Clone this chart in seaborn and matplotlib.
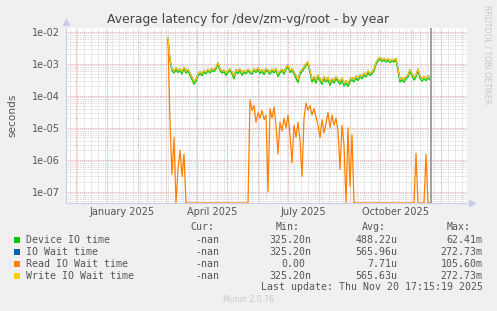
import numpy as np
import pandas as pd
import matplotlib
matplotlib.use("Agg")
import matplotlib.pyplot as plt
import matplotlib.dates as mdates
from matplotlib.patches import Rectangle
from matplotlib.ticker import LogLocator, NullFormatter
import seaborn as sns

# ---------------- data (microseconds, one sample every 2 days from 2025-03-03) -------------
start_date = "2025-03-03"
step = "2D"

device_io_us = [5800, 1250, 620, 520, 660, 540, 610, 480, 700, 520,
                600, 440, 320, 230, 280, 420, 490, 430, 540, 490,
                600, 520, 630, 570, 700, 960, 610, 520, 570, 440,
                540, 610, 480, 340, 570, 500, 610, 440, 540, 490,
                600, 520, 480, 610, 540, 660, 500, 580, 460, 630,
                560, 480, 600, 520, 630, 400, 520, 600, 480, 660,
                820, 540, 610, 480, 350, 260, 480, 570, 700, 880,
                1000, 510, 270, 340, 250, 390, 290, 230, 340, 270,
                320, 210, 300, 250, 340, 280, 230, 310, 200, 250,
                195, 280, 320, 270, 360, 300, 390, 340, 450, 390,
                520, 430, 490, 610, 960, 1230, 1400, 1180, 1320, 1140,
                1270, 1090, 1230, 1140, 1320, 600, 270, 320, 265, 340,
                390, 570, 430, 310, 390, 610, 350, 290, 340, 300,
                360, 320]

write_wait_us = [6500, 1400, 700, 600, 750, 620, 700, 560, 800, 600,
                 680, 520, 380, 280, 330, 480, 560, 500, 620, 560,
                 680, 600, 720, 650, 800, 1100, 700, 600, 650, 520,
                 620, 700, 560, 420, 650, 580, 700, 520, 620, 560,
                 680, 600, 560, 700, 620, 750, 580, 660, 540, 720,
                 640, 560, 680, 600, 720, 480, 600, 680, 560, 750,
                 930, 620, 700, 560, 420, 320, 560, 650, 800, 1000,
                 1150, 600, 330, 400, 300, 450, 350, 280, 400, 320,
                 380, 260, 350, 300, 400, 330, 280, 360, 250, 300,
                 240, 330, 380, 320, 420, 360, 450, 400, 520, 450,
                 600, 500, 560, 700, 1100, 1400, 1600, 1350, 1500, 1300,
                 1450, 1250, 1400, 1300, 1500, 700, 330, 380, 320, 400,
                 450, 650, 500, 380, 450, 700, 420, 350, 400, 360,
                 420, 380]

# IO wait is visually indistinguishable from write wait (hidden beneath it)
io_wait_us = list(write_wait_us)

read_wait_us = [5000, 15, 0.35, 5, 0, 0.5, 2, 0.3, 1.5, 0,
                0, 0, 0, 0, 0, 0, 0, 0, 0, 0,
                0, 0, 0, 0, 0, 0, 0, 0, 0, 0,
                0, 0, 0, 0, 0, 0, 0, 0, 0, 0,
                0, 75, 35, 50, 15, 30, 20, 35, 18, 25,
                0.1, 40, 20, 45, 12, 1.5, 15, 8, 20, 10,
                25, 6, 0.8, 12, 5, 15, 4, 0.3, 20, 60,
                35, 50, 25, 40, 22, 12, 5, 18, 7, 14,
                30, 10, 25, 12, 20, 8, 0.5, 12, 3, 0,
                10, 0.15, 6, 0, 0, 0, 0, 0, 0, 0,
                0, 0, 0, 0, 0, 0, 0, 0, 0, 0,
                0, 0, 0, 0, 0, 0, 0, 0, 0, 0,
                0, 0, 0, 0, 1.6, 0, 0, 0, 0, 1.5,
                0, 0]

series_names = ["Device IO time", "IO Wait time", "Read IO Wait time", "Write IO Wait time"]
series_colors = ["#00CC00", "#0066B3", "#FF8000", "#FFCC00"]
legend_cur = ["-nan", "-nan", "-nan", "-nan"]
legend_min = ["325.20n", "325.20n", "0.00", "325.20n"]
legend_avg = ["488.22u", "565.96u", "7.71u", "565.63u"]
legend_max = ["62.41m", "272.73m", "105.60m", "272.73m"]

title = "Average latency for /dev/zm-vg/root - by year"
ylabel = "seconds"
last_update = "Last update: Thu Nov 20 17:15:19 2025"
now_time = "2025-11-20 17:15:19"
x_start, x_end = "2024-11-21", "2025-12-27"
y_min, y_max = 10 ** -7.353, 10 ** -1.875

# ---------------- build frame ----------------
n = len(write_wait_us)
dates = pd.date_range(start_date, periods=n, freq=step)
rows = []
for name, vals in zip(series_names, [device_io_us, io_wait_us, read_wait_us, write_wait_us]):
    v = np.array(vals, dtype=float) * 1e-6
    v = np.clip(v, y_min, None)   # zero is drawn on the bottom edge, as rrdtool does
    rows.append(pd.DataFrame({"date": dates, "value": v, "series": name}))
df = pd.concat(rows, ignore_index=True)

# ---------------- figure ----------------
W, H = 497, 311
sns.set_style("white")
plt.rcParams["font.family"] = ["DejaVu Sans"]
fig = plt.figure(figsize=(W / 100, H / 100), dpi=100, facecolor="#F0F0F0")
L, R, T, B = 66, 467, 28, 203
ax = fig.add_axes([L / W, 1 - B / H, (R - L) / W, (B - T) / H])
ax.set_facecolor("white")
ax.set_yscale("log")

red = "#E8A8A8"
gray = "#CFCFCF"
txt = "#555555"

# grids
ax.set_axisbelow(True)
ax.yaxis.set_major_locator(LogLocator(base=10, numticks=20))
ax.yaxis.set_minor_locator(LogLocator(base=10, subs=np.arange(2, 10), numticks=20))
ax.yaxis.set_minor_formatter(NullFormatter())
ax.grid(True, axis="y", which="major", color=red, ls=(0, (1, 1)), lw=0.7)
ax.grid(True, axis="y", which="minor", color=gray, ls=(0, (1, 1)), lw=0.6)
ax.xaxis.set_minor_locator(mdates.WeekdayLocator(byweekday=mdates.MO))
ax.grid(True, axis="x", which="minor", color=gray, ls=(0, (1, 1)), lw=0.6)
for d in pd.date_range("2024-12-01", "2025-12-01", freq="MS"):
    ax.axvline(d, color=red, ls=(0, (1, 1)), lw=0.7, zorder=0.5)

sns.lineplot(data=df, x="date", y="value", hue="series", palette=series_colors,
             hue_order=series_names, estimator=None, sort=False, legend=False,
             lw=0.9, ax=ax)

ax.axvline(pd.Timestamp(now_time), color="#999999", lw=1.3, zorder=5)

ax.set_xlim(pd.Timestamp(x_start), pd.Timestamp(x_end))
ax.set_ylim(y_min, y_max)

# tick labels
ax.yaxis.set_major_formatter(matplotlib.ticker.FuncFormatter(lambda v, p: f"{v:.0e}"))
ax.xaxis.set_major_locator(mdates.MonthLocator(bymonth=[1, 4, 7, 10], bymonthday=16))
ax.xaxis.set_major_formatter(mdates.DateFormatter("%B %Y"))
ax.tick_params(axis="both", which="both", length=0, labelsize=7, labelcolor=txt)
ax.tick_params(axis="y", pad=4.3)
ax.tick_params(axis="x", pad=3.2)

for s in ["top", "right"]:
    ax.spines[s].set_visible(False)
for s in ["left", "bottom"]:
    ax.spines[s].set_color("#C8CCE8")
    ax.spines[s].set_linewidth(0.8)
# axis arrows
ax.plot([0], [1.035], marker="^", color="#C8CCE8", ms=4, transform=ax.transAxes, clip_on=False)
ax.plot([1.012], [0], marker=">", color="#C8CCE8", ms=4, transform=ax.transAxes, clip_on=False)

ax.set_xlabel("")
ax.set_ylabel("")

# texts
fig.text(248.5 / W, 1 - 19 / H, title, ha="center", va="center", fontsize=8.9, color="#444444")
fig.text(12 / W, 1 - 115.5 / H, ylabel, ha="center", va="center", rotation=90, fontsize=7.6, color=txt)
fig.text(487 / W, 1 - 5 / H, "RRDTOOL / TOBI OETIKER", ha="center", va="top", rotation=270,
         fontsize=5.6, color="#C8C8C8")

mono = {"family": "DejaVu Sans Mono", "size": 7.1}
hy = 227.3
for label, xl in zip(["Cur:", "Min:", "Avg:", "Max:"], [190, 276, 361.7, 446.7]):
    fig.text(xl / W, 1 - hy / H, label, ha="left", va="center", color=txt, fontdict=mono)
for i, name in enumerate(series_names):
    yy = 239.8 + 12 * i
    fig.add_artist(Rectangle((14 / W, 1 - (yy + 3) / H), 6 / W, 6 / H, transform=fig.transFigure,
                             facecolor=series_colors[i], edgecolor="none"))
    fig.text(26 / W, 1 - yy / H, name, ha="left", va="center", color=txt, fontdict=mono)
    fig.text(219.3 / W, 1 - yy / H, legend_cur[i], ha="right", va="center", color=txt, fontdict=mono)
    mx = 311.7 if legend_min[i].endswith(("n", "u", "m")) else 305.7
    fig.text(mx / W, 1 - yy / H, legend_min[i], ha="right", va="center", color=txt, fontdict=mono)
    fig.text(397.3 / W, 1 - yy / H, legend_avg[i], ha="right", va="center", color=txt, fontdict=mono)
    fig.text(482.7 / W, 1 - yy / H, legend_max[i], ha="right", va="center", color=txt, fontdict=mono)
fig.text(482.7 / W, 1 - 287.5 / H, last_update, ha="right", va="center", color=txt, fontdict=mono)
fig.text(248 / W, 1 - 300 / H, "Munin 2.0.76", ha="center", va="center", fontsize=5.6, color="#C8C8C8")

fig.savefig("out.png", dpi=100, facecolor=fig.get_facecolor())
